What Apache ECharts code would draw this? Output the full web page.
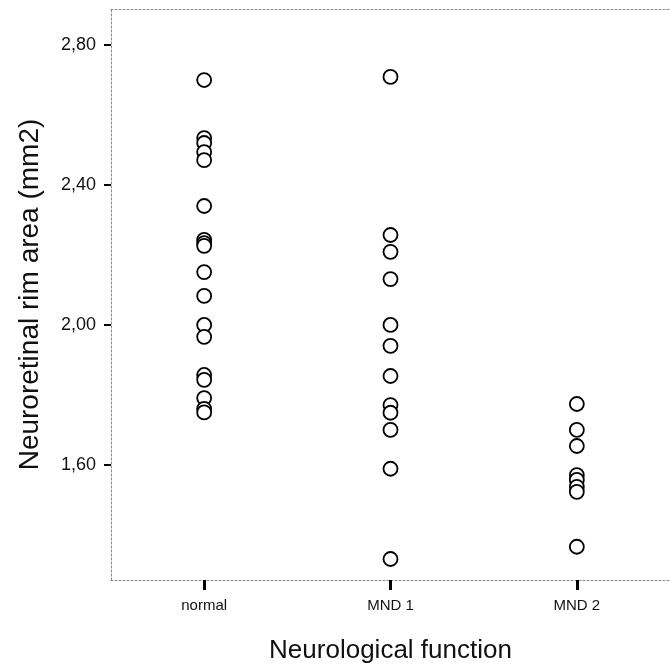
<!DOCTYPE html>
<html>
<head>
<meta charset="utf-8">
<script src="https://cdn.jsdelivr.net/npm/echarts@6/dist/echarts.min.js"></script>
<style>
  html, body { margin: 0; padding: 0; background: #fff; }
  #chart { width: 670px; height: 671px; }
</style>
</head>
<body>
<div id="chart"></div>
<script>
// groups and rim area values (mm2)
var categories = ["normal", "MND 1", "MND 2"];
var normalVals = [2.70, 2.534, 2.52, 2.494, 2.471, 2.34, 2.243, 2.234, 2.226, 2.151, 2.083, 2.00, 1.966, 1.857, 1.843, 1.791, 1.76, 1.75];
var mnd1Vals = [2.709, 2.257, 2.209, 2.131, 2.00, 1.94, 1.854, 1.771, 1.749, 1.70, 1.589, 1.331];
var mnd2Vals = [1.774, 1.70, 1.654, 1.571, 1.557, 1.537, 1.523, 1.366];
var yTicks = [1.6, 2.0, 2.4, 2.8];

var groups = [normalVals, mnd1Vals, mnd2Vals];
var points = [];
groups.forEach(function (vals, i) {
    vals.forEach(function (v) { points.push([i, v]); });
});

var dom = document.getElementById("chart");
var myChart = echarts.init(dom);
var font = "Liberation Sans, Arial, sans-serif";
var dotted = { color: "#8a8a8a", width: 1, type: [2, 2] };

var option = {
    animation: false,
    grid: { left: 111, right: 0, top: 9, bottom: 91, outerBoundsMode: "none" },
    xAxis: [
        {
            type: "category",
            data: categories,
            boundaryGap: true,
            position: "bottom",
            name: "Neurological function",
            nameLocation: "middle",
            nameGap: 58,
            nameTextStyle: { fontFamily: font, fontSize: 26, color: "#111" },
            axisLine: { show: true, lineStyle: dotted },
            axisTick: { show: true, alignWithLabel: true, length: 10, lineStyle: { color: "#000", width: 3 } },
            axisLabel: { fontFamily: font, fontSize: 15, color: "#111", margin: 18 },
            splitLine: { show: false }
        },
        {
            type: "category",
            data: categories,
            position: "top",
            axisLine: { show: true, lineStyle: dotted },
            axisTick: { show: false },
            axisLabel: { show: false }
        }
    ],
    yAxis: {
        type: "value",
        min: 1.271,
        max: 2.903,
        name: "Neuroretinal rim area (mm2)",
        nameLocation: "middle",
        nameGap: 67,
        nameTextStyle: { fontFamily: font, fontSize: 28, color: "#111" },
        axisLine: { show: true, lineStyle: dotted },
        axisTick: { show: true, length: 7, customValues: yTicks, lineStyle: { color: "#000", width: 2 } },
        axisLabel: {
            fontFamily: font, fontSize: 18, color: "#111", margin: 15,
            customValues: yTicks,
            formatter: function (v) { return v.toFixed(2).replace(".", ","); }
        },
        splitLine: { show: false }
    },
    series: [
        {
            type: "scatter",
            xAxisIndex: 0,
            data: points,
            symbol: "circle",
            symbolSize: 14,
            itemStyle: { color: "#fff", borderColor: "#000", borderWidth: 1.8, opacity: 1 }
        }
    ]
};
option && "object" == typeof option && myChart.setOption(option, !0);
</script>
</body>
</html>
